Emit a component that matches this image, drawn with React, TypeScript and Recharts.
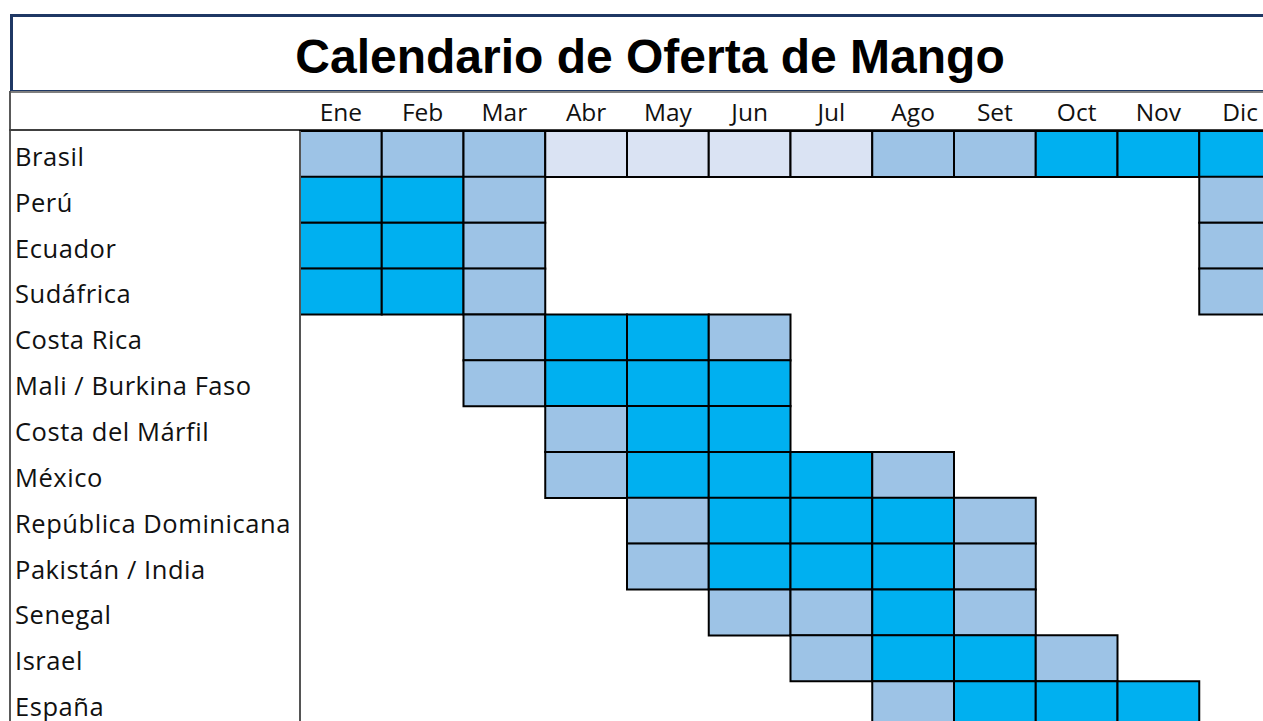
import React from 'react';
import { BarChart, Bar, XAxis, YAxis, Cell, ReferenceLine } from 'recharts';

const months = ['Ene', 'Feb', 'Mar', 'Abr', 'May', 'Jun', 'Jul', 'Ago', 'Set', 'Oct', 'Nov', 'Dic'];

const countries = [
  'Brasil',
  'Perú',
  'Ecuador',
  'Sudáfrica',
  'Costa Rica',
  'Mali / Burkina Faso',
  'Costa del Márfil',
  'México',
  'República Dominicana',
  'Pakistán / India',
  'Senegal',
  'Israel',
  'España',
];

// 0 = sin oferta, 1 = oferta, 2 = oferta alta, 3 = oferta baja
const brasil = [1, 1, 1, 3, 3, 3, 3, 1, 1, 2, 2, 2];
const peru = [2, 2, 1, 0, 0, 0, 0, 0, 0, 0, 0, 1];
const ecuador = [2, 2, 1, 0, 0, 0, 0, 0, 0, 0, 0, 1];
const sudafrica = [2, 2, 1, 0, 0, 0, 0, 0, 0, 0, 0, 1];
const costaRica = [0, 0, 1, 2, 2, 1, 0, 0, 0, 0, 0, 0];
const mali = [0, 0, 1, 2, 2, 2, 0, 0, 0, 0, 0, 0];
const costaMarfil = [0, 0, 0, 1, 2, 2, 0, 0, 0, 0, 0, 0];
const mexico = [0, 0, 0, 1, 2, 2, 2, 1, 0, 0, 0, 0];
const republicaDominicana = [0, 0, 0, 0, 1, 2, 2, 2, 1, 0, 0, 0];
const pakistan = [0, 0, 0, 0, 1, 2, 2, 2, 1, 0, 0, 0];
const senegal = [0, 0, 0, 0, 0, 1, 1, 2, 1, 0, 0, 0];
const israel = [0, 0, 0, 0, 0, 0, 1, 2, 2, 1, 0, 0];
const espana = [0, 0, 0, 0, 0, 0, 0, 1, 2, 2, 2, 0];

const seasonRows = [
  brasil, peru, ecuador, sudafrica, costaRica, mali, costaMarfil,
  mexico, republicaDominicana, pakistan, senegal, israel, espana,
];

// each month occupies one unit on the x axis
const monthSpan = 1;

const levelFill: Record<number, string> = {
  0: 'transparent',
  1: '#9DC3E6',
  2: '#00B0F0',
  3: '#DAE3F3',
};

const data = countries.map((country) => {
  const row: Record<string, any> = { country };
  months.forEach((_, i) => {
    row[`m${i}`] = monthSpan;
  });
  return row;
});

const monthTicks = months.map((_, i) => i + 0.5);

const FONT = '"Open Sans", "Noto Sans", sans-serif';

const MonthTick = (props: any) => {
  const { x, y, payload } = props;
  return (
    <text x={x} y={y} dy={-2} textAnchor="middle" fontFamily={FONT} fontSize={24.5} fill="#111">
      {months[Math.floor(payload.value)]}
    </text>
  );
};

const CountryTick = (props: any) => {
  const { y, payload } = props;
  return (
    <text
      x={15}
      y={y}
      dy={12}
      textAnchor="start"
      fontFamily={FONT}
      fontSize={25.5}
      letterSpacing={0.55}
      fill="#111"
    >
      {payload.value}
    </text>
  );
};

export default function App() {
  return (
    <div
      style={{
        position: 'fixed',
        left: 0,
        top: 0,
        width: 1263,
        height: 721,
        overflow: 'hidden',
        background: '#fff',
      }}
    >
      {/* title box */}
      <div
        style={{
          position: 'absolute',
          left: 10,
          top: 14,
          width: 1274,
          height: 73,
          border: '3px solid #1F3864',
          boxSizing: 'content-box',
          fontFamily: '"Liberation Sans", Arial, sans-serif',
          fontWeight: 'bold',
          fontSize: 48,
          lineHeight: '79px',
          textAlign: 'center',
          color: '#000',
          overflow: 'visible',
        }}
      >
        Calendario de Oferta de Mango
      </div>
      {/* table top border */}
      <div style={{ position: 'absolute', left: 9, top: 91, width: 1300, height: 2, background: '#7F7F7F' }} />
      {/* table left border */}
      <div style={{ position: 'absolute', left: 9, top: 91, width: 2, height: 700, background: '#595959' }} />
      {/* header bottom border */}
      <div style={{ position: 'absolute', left: 9, top: 129, width: 1300, height: 2, background: '#404040' }} />

      <div style={{ position: 'absolute', left: 0, top: 0 }}>
        <BarChart
          width={1300}
          height={740}
          data={data}
          layout="vertical"
          barCategoryGap={0}
          barGap={0}
          margin={{ top: 92, right: 19, bottom: 13, left: 0 }}
        >
          <XAxis
            type="number"
            orientation="top"
            domain={[0, months.length]}
            ticks={monthTicks}
            height={39}
            tick={<MonthTick />}
            tickLine={false}
            axisLine={false}
            interval={0}
          />
          <YAxis
            type="category"
            dataKey="country"
            width={300}
            tick={<CountryTick />}
            tickLine={false}
            axisLine={false}
            interval={0}
          />
          {months.map((m, i) => (
            <Bar key={m} dataKey={`m${i}`} stackId="cal" isAnimationActive={false}>
              {seasonRows.map((row, r) => (
                <Cell
                  key={`${m}-${r}`}
                  fill={levelFill[row[i]]}
                  stroke={row[i] === 0 ? 'none' : '#000'}
                  strokeWidth={2}
                />
              ))}
            </Bar>
          ))}
          <ReferenceLine x={0} stroke="#555" strokeWidth={2} ifOverflow="visible" />
        </BarChart>
      </div>
    </div>
  );
}
